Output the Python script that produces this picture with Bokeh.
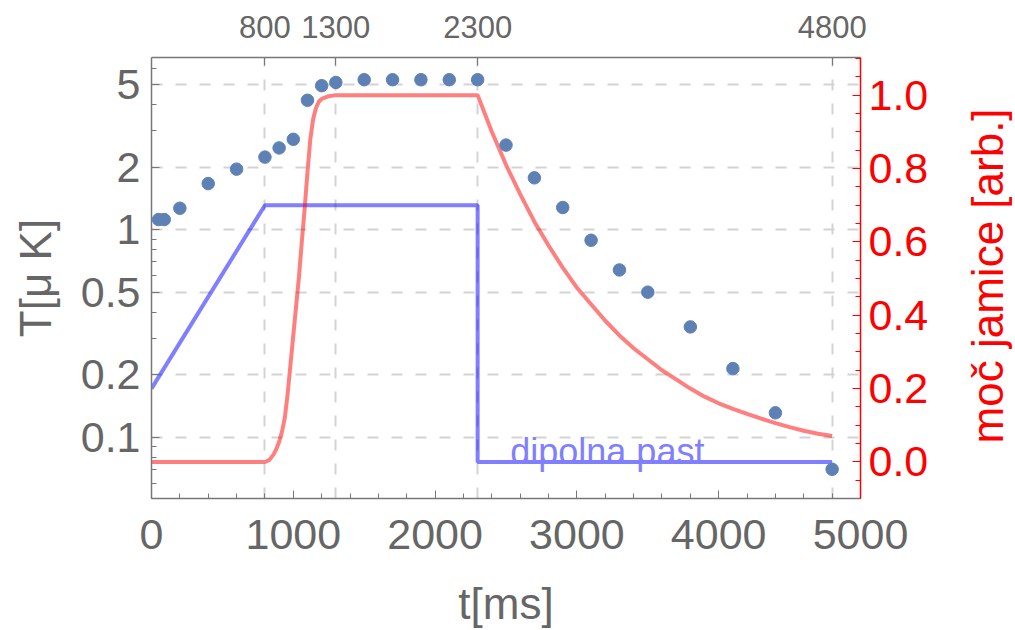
import math
from bokeh.plotting import figure
from bokeh.layouts import row
from bokeh.models import (Range1d, LinearAxis, FixedTicker, Label, LinearScale,
                          CustomJSTickFormatter, PrintfTickFormatter)
from bokeh.embed import file_html
from bokeh.resources import INLINE

# ---- data ----
dot_t = [50, 90, 200, 400, 600, 800, 900, 1000, 1100, 1200, 1300, 1500, 1700,
         1900, 2100, 2300, 2500, 2700, 2900, 3100, 3300, 3500, 3800, 4100, 4400, 4800]
dot_T = [1.12, 1.12, 1.27, 1.67, 1.96, 2.24, 2.48, 2.73, 4.21, 4.95, 5.13, 5.29, 5.29,
         5.29, 5.29, 5.29, 2.56, 1.78, 1.28, 0.89, 0.64, 0.50, 0.34, 0.214, 0.131, 0.070]

well_t = [0, 800, 830, 860, 880, 900, 920, 940, 960, 980, 1000, 1020, 1040, 1060,
          1080, 1100, 1120, 1140, 1160, 1180, 1200, 1250, 1300, 2300, 2400, 2500,
          2600, 2700, 2800, 2900, 3000, 3100, 3200, 3300, 3400, 3500, 3600, 3700,
          3800, 3900, 4000, 4100, 4200, 4300, 4400, 4500, 4600, 4700, 4800]
well_v = [0.0, 0.0, 0.005, 0.02, 0.035, 0.055, 0.082, 0.12, 0.185, 0.265, 0.345,
          0.425, 0.505, 0.60, 0.69, 0.79, 0.88, 0.935, 0.965, 0.982, 0.99, 0.997,
          1.0, 1.0, 0.90, 0.81, 0.73, 0.655, 0.59, 0.53, 0.475, 0.43, 0.385, 0.345,
          0.31, 0.28, 0.25, 0.225, 0.20, 0.178, 0.16, 0.145, 0.131, 0.118, 0.106,
          0.095, 0.085, 0.077, 0.0706]

dip_t = [0, 800, 2300, 2300, 4800]
dip_v = [0.2, 0.7, 0.7, 0.0, 0.0]

x_ticks = [0, 1000, 2000, 3000, 4000, 5000]
x_minor = [i * 200 for i in range(26)]
top_ticks = [800, 1300, 2300, 4800]
y_ticks = [0.1, 0.2, 0.5, 1, 2, 5]
y_minor = [0.06, 0.07, 0.08, 0.09, 0.3, 0.4, 0.6, 0.7, 0.8, 0.9, 3, 4, 6]
r_ticks = [0.0, 0.2, 0.4, 0.6, 0.8, 1.0]
r_minor = [round(-0.1 + 0.05 * i, 2) for i in range(25)]

x_title = "t[ms]"
y_title = "T[μ K]"
r_title = "moč jamice [arb.]"
dip_label = "dipolna past"

FONT = "Liberation Sans"
GRAY = "#666666"
FRAME = "#777777"
MAIN_W = 955

p = figure(width=MAIN_W, height=630, output_backend="svg", toolbar_location=None,
           y_axis_type="log", x_range=Range1d(0, 5000), y_range=Range1d(0.0506, 6.77),
           min_border_left=151, min_border_right=95, min_border_top=57,
           min_border_bottom=130)
p.outline_line_color = None
p.extra_y_ranges = {"right": Range1d(-0.0996, 1.1026)}
p.extra_y_scales = {"right": LinearScale()}

def style(ax, color, font_size):
    ax.axis_line_color = color
    ax.axis_line_width = 1.5
    ax.major_tick_line_color = color
    ax.minor_tick_line_color = color
    ax.major_tick_in = 8
    ax.major_tick_out = 0
    ax.minor_tick_in = 5
    ax.minor_tick_out = 0
    ax.major_label_text_font = FONT
    ax.major_label_text_font_size = font_size
    ax.major_label_text_color = color if color != FRAME else GRAY
    ax.axis_label_text_font = FONT
    ax.axis_label_text_font_style = "normal"
    ax.axis_label_text_font_size = "44px"

# bottom axis
xa = p.xaxis[0]
xa.ticker = FixedTicker(ticks=x_ticks, minor_ticks=x_minor)
style(xa, FRAME, "43px")
xa.major_label_standoff = 21
xa.axis_label = x_title
xa.axis_label_text_color = GRAY
xa.axis_label_standoff = 27

# left axis
ya = p.yaxis[0]
ya.ticker = FixedTicker(ticks=y_ticks, minor_ticks=y_minor)
ya.formatter = CustomJSTickFormatter(code="return tick.toString()")
style(ya, FRAME, "43px")
ya.axis_label = y_title
ya.axis_label_text_color = GRAY
ya.major_label_standoff = 11
ya.axis_label_standoff = 18

# top axis
ta = LinearAxis(ticker=FixedTicker(ticks=top_ticks))
style(ta, FRAME, "31px")
ta.minor_tick_line_color = None
ta.major_label_standoff = 20
p.add_layout(ta, "above")

# right axis
ra = LinearAxis(y_range_name="right", ticker=FixedTicker(ticks=r_ticks, minor_ticks=r_minor),
                formatter=PrintfTickFormatter(format="%.1f"))
style(ra, "#FF0000", "43px")
ra.major_label_standoff = 8
p.add_layout(ra, "right")

# grids
p.xgrid.ticker = FixedTicker(ticks=top_ticks)
p.ygrid.ticker = FixedTicker(ticks=y_ticks)
for g in (p.xgrid, p.ygrid):
    g.grid_line_color = "#d3d3d3"
    g.grid_line_width = 2
    g.grid_line_dash = "11 13"

# data
p.line(dip_t, dip_v, y_range_name="right", line_color="#0000FF", line_alpha=0.5, line_width=4)
p.line(well_t, well_v, y_range_name="right", line_color="#FF0000", line_alpha=0.5, line_width=4)
p.scatter(dot_t, dot_T, size=12.5, color="#5E81B5")

p.add_layout(Label(x=2530, y=0.028, y_range_name="right", text=dip_label,
                   text_font=FONT, text_font_size="36px", text_color="#8080FF",
                   text_baseline="alphabetic"))

# narrow companion panel holding the right-hand axis title (reads bottom-to-top)
side_w = 1015 - MAIN_W
p2 = figure(width=side_w, height=630, output_backend="svg", toolbar_location=None,
            x_range=Range1d(0, side_w), y_range=Range1d(0, 630),
            x_axis_location=None, y_axis_location=None, min_border=0)
p2.outline_line_color = None
p2.grid.visible = False
p2.add_layout(Label(x=32, y=318, text=r_title, angle=math.pi / 2,
                    text_font=FONT, text_font_size="44px", text_color="#FF0000",
                    text_align="center", text_baseline="alphabetic"))

layout = row(p, p2, spacing=0)
open("out.html", "w").write(file_html(layout, INLINE))
